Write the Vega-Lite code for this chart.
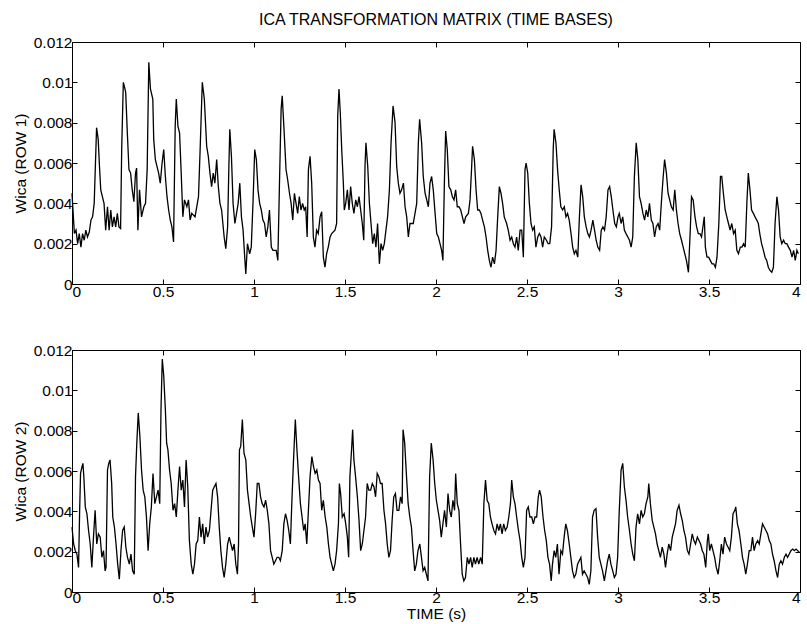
{
"$schema":"https://vega.github.io/schema/vega-lite/v6.json",
"padding":{"left":12,"top":11,"right":0,"bottom":0},
"background":"#ffffff",
"config":{"font":"Liberation Sans","view":{"stroke":"#000","strokeWidth":1},
"axis":{"grid":false,"domain":false,"tickColor":"#000","tickSize":-5,"labelColor":"#000","labelFontSize":15.5,"titleFontSize":15.5,"titleFontWeight":"normal","titleColor":"#000","labelFont":"Liberation Sans","titleFont":"Liberation Sans"}},
"spacing":42,
"datasets":{
"r1":[{"t":0,"w":0.0045},{"t":0.013,"w":0.0025},{"t":0.022,"w":0.00267},{"t":0.031,"w":0.002},{"t":0.04,"w":0.0025},{"t":0.049,"w":0.00183},{"t":0.058,"w":0.0025},{"t":0.067,"w":0.00217},{"t":0.076,"w":0.00267},{"t":0.085,"w":0.00233},{"t":0.095,"w":0.00258},{"t":0.104,"w":0.00317},{"t":0.113,"w":0.00333},{"t":0.122,"w":0.004},{"t":0.135,"w":0.00775},{"t":0.144,"w":0.00717},{"t":0.151,"w":0.00583},{"t":0.158,"w":0.00467},{"t":0.167,"w":0.00433},{"t":0.176,"w":0.004},{"t":0.185,"w":0.00267},{"t":0.195,"w":0.00383},{"t":0.204,"w":0.00267},{"t":0.213,"w":0.00367},{"t":0.222,"w":0.00283},{"t":0.231,"w":0.00333},{"t":0.24,"w":0.00283},{"t":0.249,"w":0.0035},{"t":0.258,"w":0.00283},{"t":0.267,"w":0.00275},{"t":0.273,"w":0.00667},{"t":0.282,"w":0.01},{"t":0.289,"w":0.00975},{"t":0.295,"w":0.0095},{"t":0.304,"w":0.0075},{"t":0.313,"w":0.00567},{"t":0.322,"w":0.0055},{"t":0.331,"w":0.00467},{"t":0.34,"w":0.00408},{"t":0.349,"w":0.0055},{"t":0.355,"w":0.00575},{"t":0.362,"w":0.00267},{"t":0.371,"w":0.00467},{"t":0.382,"w":0.00333},{"t":0.395,"w":0.00383},{"t":0.404,"w":0.004},{"t":0.413,"w":0.00567},{"t":0.422,"w":0.011},{"t":0.431,"w":0.00967},{"t":0.444,"w":0.00917},{"t":0.449,"w":0.00717},{"t":0.458,"w":0.00617},{"t":0.467,"w":0.00583},{"t":0.476,"w":0.0055},{"t":0.485,"w":0.005},{"t":0.495,"w":0.006},{"t":0.504,"w":0.00667},{"t":0.513,"w":0.00533},{"t":0.522,"w":0.00433},{"t":0.531,"w":0.00367},{"t":0.54,"w":0.00317},{"t":0.549,"w":0.00283},{"t":0.558,"w":0.00208},{"t":0.567,"w":0.00783},{"t":0.573,"w":0.00917},{"t":0.582,"w":0.00783},{"t":0.591,"w":0.0075},{"t":0.6,"w":0.0055},{"t":0.609,"w":0.00333},{"t":0.618,"w":0.00417},{"t":0.631,"w":0.00383},{"t":0.64,"w":0.00417},{"t":0.649,"w":0.00317},{"t":0.658,"w":0.0035},{"t":0.676,"w":0.00333},{"t":0.695,"w":0.00433},{"t":0.704,"w":0.00667},{"t":0.716,"w":0.01},{"t":0.727,"w":0.00917},{"t":0.74,"w":0.00683},{"t":0.749,"w":0.00633},{"t":0.758,"w":0.0055},{"t":0.767,"w":0.00483},{"t":0.776,"w":0.0055},{"t":0.785,"w":0.005},{"t":0.795,"w":0.00617},{"t":0.804,"w":0.00483},{"t":0.813,"w":0.004},{"t":0.822,"w":0.00367},{"t":0.836,"w":0.00233},{"t":0.845,"w":0.00175},{"t":0.855,"w":0.00283},{"t":0.862,"w":0.00583},{"t":0.867,"w":0.00767},{"t":0.876,"w":0.00633},{"t":0.885,"w":0.004},{"t":0.895,"w":0.003},{"t":0.904,"w":0.0035},{"t":0.913,"w":0.004},{"t":0.922,"w":0.005},{"t":0.931,"w":0.00333},{"t":0.94,"w":0.00267},{"t":0.949,"w":0.00133},{"t":0.955,"w":0.0005},{"t":0.964,"w":0.002},{"t":0.976,"w":0.0015},{"t":0.985,"w":0.00183},{"t":0.995,"w":0.00417},{"t":1.004,"w":0.00667},{"t":1.013,"w":0.00617},{"t":1.022,"w":0.00467},{"t":1.031,"w":0.004},{"t":1.04,"w":0.00367},{"t":1.049,"w":0.00317},{"t":1.058,"w":0.003},{"t":1.067,"w":0.00233},{"t":1.076,"w":0.00283},{"t":1.085,"w":0.00367},{"t":1.095,"w":0.00183},{"t":1.104,"w":0.00167},{"t":1.113,"w":0.00167},{"t":1.122,"w":0.00167},{"t":1.131,"w":0.00117},{"t":1.14,"w":0.005},{"t":1.149,"w":0.00867},{"t":1.155,"w":0.00933},{"t":1.164,"w":0.00783},{"t":1.176,"w":0.00567},{"t":1.185,"w":0.00517},{"t":1.195,"w":0.0045},{"t":1.204,"w":0.004},{"t":1.213,"w":0.00317},{"t":1.222,"w":0.0045},{"t":1.231,"w":0.004},{"t":1.24,"w":0.0035},{"t":1.249,"w":0.00433},{"t":1.258,"w":0.00367},{"t":1.267,"w":0.004},{"t":1.276,"w":0.00367},{"t":1.284,"w":0.00383},{"t":1.292,"w":0.00233},{"t":1.299,"w":0.00567},{"t":1.308,"w":0.00633},{"t":1.317,"w":0.005},{"t":1.326,"w":0.00233},{"t":1.335,"w":0.00183},{"t":1.344,"w":0.00267},{"t":1.353,"w":0.0025},{"t":1.363,"w":0.00333},{"t":1.372,"w":0.00358},{"t":1.381,"w":0.00133},{"t":1.39,"w":0.00083},{"t":1.399,"w":0.0015},{"t":1.408,"w":0.00183},{"t":1.418,"w":0.00233},{"t":1.427,"w":0.0025},{"t":1.445,"w":0.00267},{"t":1.454,"w":0.003},{"t":1.46,"w":0.00833},{"t":1.467,"w":0.00967},{"t":1.474,"w":0.0085},{"t":1.482,"w":0.00667},{"t":1.491,"w":0.005},{"t":1.496,"w":0.00367},{"t":1.504,"w":0.004},{"t":1.513,"w":0.00467},{"t":1.522,"w":0.00367},{"t":1.531,"w":0.00483},{"t":1.54,"w":0.004},{"t":1.549,"w":0.0035},{"t":1.559,"w":0.00417},{"t":1.568,"w":0.00383},{"t":1.577,"w":0.00433},{"t":1.586,"w":0.00367},{"t":1.595,"w":0.003},{"t":1.603,"w":0.00217},{"t":1.61,"w":0.00583},{"t":1.615,"w":0.007},{"t":1.625,"w":0.00583},{"t":1.634,"w":0.004},{"t":1.643,"w":0.003},{"t":1.652,"w":0.002},{"t":1.661,"w":0.0025},{"t":1.67,"w":0.00183},{"t":1.679,"w":0.003},{"t":1.689,"w":0.001},{"t":1.698,"w":0.002},{"t":1.707,"w":0.00167},{"t":1.716,"w":0.002},{"t":1.725,"w":0.00267},{"t":1.734,"w":0.00333},{"t":1.744,"w":0.00467},{"t":1.753,"w":0.007},{"t":1.764,"w":0.00883},{"t":1.775,"w":0.008},{"t":1.784,"w":0.00583},{"t":1.793,"w":0.005},{"t":1.802,"w":0.0045},{"t":1.811,"w":0.00467},{"t":1.821,"w":0.005},{"t":1.83,"w":0.00383},{"t":1.839,"w":0.00333},{"t":1.848,"w":0.00233},{"t":1.857,"w":0.003},{"t":1.875,"w":0.003},{"t":1.894,"w":0.004},{"t":1.903,"w":0.007},{"t":1.91,"w":0.00817},{"t":1.921,"w":0.007},{"t":1.93,"w":0.00533},{"t":1.94,"w":0.0045},{"t":1.949,"w":0.00417},{"t":1.958,"w":0.00383},{"t":1.967,"w":0.005},{"t":1.976,"w":0.00533},{"t":1.985,"w":0.00467},{"t":1.995,"w":0.0035},{"t":2.004,"w":0.0025},{"t":2.013,"w":0.00233},{"t":2.022,"w":0.002},{"t":2.031,"w":0.00167},{"t":2.038,"w":0.00117},{"t":2.046,"w":0.005},{"t":2.053,"w":0.00758},{"t":2.062,"w":0.00667},{"t":2.071,"w":0.00483},{"t":2.081,"w":0.00467},{"t":2.09,"w":0.00433},{"t":2.099,"w":0.00417},{"t":2.108,"w":0.00467},{"t":2.117,"w":0.00383},{"t":2.126,"w":0.00383},{"t":2.136,"w":0.00367},{"t":2.145,"w":0.00333},{"t":2.154,"w":0.003},{"t":2.163,"w":0.00333},{"t":2.178,"w":0.0035},{"t":2.187,"w":0.00417},{"t":2.196,"w":0.00583},{"t":2.201,"w":0.00683},{"t":2.211,"w":0.00617},{"t":2.22,"w":0.00467},{"t":2.229,"w":0.00367},{"t":2.238,"w":0.00367},{"t":2.247,"w":0.0035},{"t":2.256,"w":0.00317},{"t":2.266,"w":0.00283},{"t":2.275,"w":0.00233},{"t":2.284,"w":0.00167},{"t":2.293,"w":0.00117},{"t":2.302,"w":0.00083},{"t":2.311,"w":0.00133},{"t":2.321,"w":0.001},{"t":2.33,"w":0.00167},{"t":2.339,"w":0.00333},{"t":2.348,"w":0.00483},{"t":2.357,"w":0.0045},{"t":2.366,"w":0.004},{"t":2.375,"w":0.00333},{"t":2.388,"w":0.003},{"t":2.397,"w":0.00267},{"t":2.407,"w":0.00217},{"t":2.416,"w":0.00233},{"t":2.425,"w":0.002},{"t":2.434,"w":0.00183},{"t":2.443,"w":0.00233},{"t":2.452,"w":0.00167},{"t":2.462,"w":0.00267},{"t":2.471,"w":0.00267},{"t":2.48,"w":0.00133},{"t":2.489,"w":0.00567},{"t":2.495,"w":0.006},{"t":2.504,"w":0.0055},{"t":2.513,"w":0.004},{"t":2.522,"w":0.003},{"t":2.531,"w":0.00267},{"t":2.54,"w":0.00283},{"t":2.549,"w":0.00183},{"t":2.559,"w":0.00233},{"t":2.568,"w":0.0025},{"t":2.577,"w":0.00233},{"t":2.586,"w":0.00183},{"t":2.595,"w":0.00233},{"t":2.607,"w":0.00217},{"t":2.616,"w":0.002},{"t":2.625,"w":0.002},{"t":2.635,"w":0.00283},{"t":2.644,"w":0.00667},{"t":2.649,"w":0.00767},{"t":2.659,"w":0.007},{"t":2.668,"w":0.00567},{"t":2.677,"w":0.00467},{"t":2.686,"w":0.00383},{"t":2.696,"w":0.00367},{"t":2.705,"w":0.00383},{"t":2.714,"w":0.00333},{"t":2.723,"w":0.0035},{"t":2.732,"w":0.00317},{"t":2.742,"w":0.0025},{"t":2.751,"w":0.00183},{"t":2.76,"w":0.0015},{"t":2.769,"w":0.00167},{"t":2.779,"w":0.00133},{"t":2.788,"w":0.00333},{"t":2.797,"w":0.00492},{"t":2.806,"w":0.00433},{"t":2.815,"w":0.00333},{"t":2.825,"w":0.00283},{"t":2.834,"w":0.0025},{"t":2.843,"w":0.00233},{"t":2.852,"w":0.00267},{"t":2.862,"w":0.00317},{"t":2.871,"w":0.00267},{"t":2.88,"w":0.00217},{"t":2.889,"w":0.00183},{"t":2.899,"w":0.00167},{"t":2.908,"w":0.00267},{"t":2.917,"w":0.00283},{"t":2.926,"w":0.00267},{"t":2.935,"w":0.00333},{"t":2.945,"w":0.00467},{"t":2.954,"w":0.00483},{"t":2.963,"w":0.00433},{"t":2.972,"w":0.00367},{"t":2.982,"w":0.003},{"t":2.991,"w":0.00283},{"t":3.0,"w":0.00333},{"t":3.007,"w":0.0035},{"t":3.017,"w":0.003},{"t":3.026,"w":0.00333},{"t":3.035,"w":0.00267},{"t":3.044,"w":0.0025},{"t":3.054,"w":0.00233},{"t":3.063,"w":0.00217},{"t":3.072,"w":0.00183},{"t":3.081,"w":0.00233},{"t":3.09,"w":0.00533},{"t":3.1,"w":0.007},{"t":3.109,"w":0.00617},{"t":3.118,"w":0.00433},{"t":3.127,"w":0.004},{"t":3.137,"w":0.0035},{"t":3.146,"w":0.00317},{"t":3.155,"w":0.00367},{"t":3.164,"w":0.00333},{"t":3.173,"w":0.004},{"t":3.183,"w":0.00317},{"t":3.192,"w":0.003},{"t":3.201,"w":0.00233},{"t":3.21,"w":0.00283},{"t":3.22,"w":0.003},{"t":3.229,"w":0.00267},{"t":3.238,"w":0.004},{"t":3.247,"w":0.00517},{"t":3.256,"w":0.00617},{"t":3.266,"w":0.0055},{"t":3.275,"w":0.0045},{"t":3.284,"w":0.00417},{"t":3.293,"w":0.00383},{"t":3.303,"w":0.00367},{"t":3.312,"w":0.00467},{"t":3.321,"w":0.00367},{"t":3.33,"w":0.003},{"t":3.339,"w":0.0025},{"t":3.349,"w":0.00217},{"t":3.358,"w":0.00183},{"t":3.367,"w":0.0015},{"t":3.376,"w":0.00117},{"t":3.387,"w":0.00058},{"t":3.397,"w":0.00267},{"t":3.404,"w":0.00433},{"t":3.413,"w":0.00417},{"t":3.423,"w":0.00333},{"t":3.432,"w":0.00283},{"t":3.441,"w":0.0025},{"t":3.45,"w":0.0025},{"t":3.459,"w":0.00233},{"t":3.469,"w":0.003},{"t":3.474,"w":0.00333},{"t":3.48,"w":0.00183},{"t":3.489,"w":0.00133},{"t":3.498,"w":0.00133},{"t":3.507,"w":0.00117},{"t":3.517,"w":0.001},{"t":3.526,"w":0.001},{"t":3.535,"w":0.00083},{"t":3.544,"w":0.00133},{"t":3.554,"w":0.003},{"t":3.563,"w":0.00533},{"t":3.57,"w":0.00533},{"t":3.579,"w":0.0045},{"t":3.589,"w":0.00367},{"t":3.598,"w":0.00333},{"t":3.607,"w":0.003},{"t":3.616,"w":0.00267},{"t":3.625,"w":0.003},{"t":3.635,"w":0.0025},{"t":3.644,"w":0.00267},{"t":3.653,"w":0.00167},{"t":3.662,"w":0.0015},{"t":3.672,"w":0.00183},{"t":3.681,"w":0.00183},{"t":3.69,"w":0.002},{"t":3.699,"w":0.00183},{"t":3.708,"w":0.004},{"t":3.716,"w":0.0055},{"t":3.725,"w":0.00467},{"t":3.734,"w":0.00367},{"t":3.744,"w":0.0035},{"t":3.753,"w":0.00333},{"t":3.762,"w":0.00317},{"t":3.771,"w":0.003},{"t":3.779,"w":0.0025},{"t":3.789,"w":0.002},{"t":3.799,"w":0.00167},{"t":3.808,"w":0.00133},{"t":3.817,"w":0.00117},{"t":3.826,"w":0.00083},{"t":3.835,"w":0.00067},{"t":3.845,"w":0.00058},{"t":3.854,"w":0.00083},{"t":3.863,"w":0.003},{"t":3.873,"w":0.00433},{"t":3.882,"w":0.00367},{"t":3.891,"w":0.00233},{"t":3.9,"w":0.002},{"t":3.91,"w":0.00217},{"t":3.919,"w":0.002},{"t":3.928,"w":0.002},{"t":3.937,"w":0.00183},{"t":3.947,"w":0.00167},{"t":3.956,"w":0.00133},{"t":3.965,"w":0.00167},{"t":3.974,"w":0.00117},{"t":3.983,"w":0.00167},{"t":3.991,"w":0.0015}],
"r2":[{"t":0,"w":0.00322},{"t":0.009,"w":0.00238},{"t":0.018,"w":0.00205},{"t":0.027,"w":0.00188},{"t":0.036,"w":0.00122},{"t":0.042,"w":0.00405},{"t":0.047,"w":0.00588},{"t":0.055,"w":0.00622},{"t":0.06,"w":0.00638},{"t":0.065,"w":0.00572},{"t":0.073,"w":0.00422},{"t":0.082,"w":0.00388},{"t":0.091,"w":0.00305},{"t":0.1,"w":0.00238},{"t":0.109,"w":0.00122},{"t":0.118,"w":0.00272},{"t":0.127,"w":0.00405},{"t":0.136,"w":0.00238},{"t":0.145,"w":0.00288},{"t":0.155,"w":0.00272},{"t":0.164,"w":0.00172},{"t":0.173,"w":0.00205},{"t":0.182,"w":0.00105},{"t":0.187,"w":0.00122},{"t":0.195,"w":0.00605},{"t":0.202,"w":0.00638},{"t":0.209,"w":0.00655},{"t":0.218,"w":0.00538},{"t":0.224,"w":0.00372},{"t":0.233,"w":0.00322},{"t":0.242,"w":0.00238},{"t":0.251,"w":0.00138},{"t":0.26,"w":0.00063},{"t":0.269,"w":0.00205},{"t":0.278,"w":0.00305},{"t":0.287,"w":0.00322},{"t":0.296,"w":0.00222},{"t":0.305,"w":0.00172},{"t":0.315,"w":0.00138},{"t":0.324,"w":0.00188},{"t":0.333,"w":0.00105},{"t":0.342,"w":0.00088},{"t":0.349,"w":0.00572},{"t":0.356,"w":0.00738},{"t":0.364,"w":0.00888},{"t":0.373,"w":0.00772},{"t":0.382,"w":0.00605},{"t":0.391,"w":0.00505},{"t":0.4,"w":0.00472},{"t":0.409,"w":0.00372},{"t":0.418,"w":0.00205},{"t":0.427,"w":0.00338},{"t":0.436,"w":0.00422},{"t":0.445,"w":0.00588},{"t":0.455,"w":0.00438},{"t":0.464,"w":0.00472},{"t":0.473,"w":0.00505},{"t":0.482,"w":0.00438},{"t":0.489,"w":0.00905},{"t":0.496,"w":0.01155},{"t":0.504,"w":0.01072},{"t":0.513,"w":0.00905},{"t":0.52,"w":0.00738},{"t":0.527,"w":0.00705},{"t":0.536,"w":0.00605},{"t":0.545,"w":0.00538},{"t":0.555,"w":0.00405},{"t":0.564,"w":0.00438},{"t":0.573,"w":0.00372},{"t":0.582,"w":0.00505},{"t":0.591,"w":0.00622},{"t":0.6,"w":0.00505},{"t":0.609,"w":0.00555},{"t":0.618,"w":0.00422},{"t":0.627,"w":0.00655},{"t":0.636,"w":0.00522},{"t":0.645,"w":0.00255},{"t":0.655,"w":0.00138},{"t":0.664,"w":0.00088},{"t":0.673,"w":0.00138},{"t":0.682,"w":0.00238},{"t":0.691,"w":0.00255},{"t":0.7,"w":0.00372},{"t":0.709,"w":0.00272},{"t":0.718,"w":0.00338},{"t":0.727,"w":0.00238},{"t":0.736,"w":0.00322},{"t":0.745,"w":0.00272},{"t":0.755,"w":0.00305},{"t":0.764,"w":0.00405},{"t":0.773,"w":0.00505},{"t":0.782,"w":0.00522},{"t":0.791,"w":0.00538},{"t":0.8,"w":0.00472},{"t":0.809,"w":0.00322},{"t":0.818,"w":0.00205},{"t":0.827,"w":0.00122},{"t":0.836,"w":0.00072},{"t":0.845,"w":0.00138},{"t":0.855,"w":0.00238},{"t":0.864,"w":0.00272},{"t":0.873,"w":0.00238},{"t":0.882,"w":0.00205},{"t":0.891,"w":0.00238},{"t":0.9,"w":0.00138},{"t":0.909,"w":0.00088},{"t":0.915,"w":0.00238},{"t":0.92,"w":0.00705},{"t":0.927,"w":0.00722},{"t":0.936,"w":0.00855},{"t":0.945,"w":0.00688},{"t":0.955,"w":0.00655},{"t":0.964,"w":0.00505},{"t":0.973,"w":0.00438},{"t":0.982,"w":0.00372},{"t":0.991,"w":0.00322},{"t":1.0,"w":0.00272},{"t":1.009,"w":0.00388},{"t":1.018,"w":0.00538},{"t":1.027,"w":0.00538},{"t":1.036,"w":0.00472},{"t":1.045,"w":0.00438},{"t":1.055,"w":0.00422},{"t":1.064,"w":0.00455},{"t":1.073,"w":0.00405},{"t":1.082,"w":0.00338},{"t":1.091,"w":0.00205},{"t":1.1,"w":0.00172},{"t":1.109,"w":0.00138},{"t":1.118,"w":0.00155},{"t":1.127,"w":0.00172},{"t":1.136,"w":0.00172},{"t":1.145,"w":0.00155},{"t":1.155,"w":0.00205},{"t":1.164,"w":0.00338},{"t":1.173,"w":0.00388},{"t":1.182,"w":0.00355},{"t":1.191,"w":0.00305},{"t":1.2,"w":0.00238},{"t":1.209,"w":0.00472},{"t":1.218,"w":0.00672},{"t":1.227,"w":0.00855},{"t":1.236,"w":0.00705},{"t":1.245,"w":0.00572},{"t":1.255,"w":0.00438},{"t":1.264,"w":0.00372},{"t":1.273,"w":0.00305},{"t":1.281,"w":0.00338},{"t":1.29,"w":0.00238},{"t":1.299,"w":0.00405},{"t":1.308,"w":0.00572},{"t":1.318,"w":0.00672},{"t":1.327,"w":0.00622},{"t":1.336,"w":0.00588},{"t":1.345,"w":0.00605},{"t":1.354,"w":0.00555},{"t":1.363,"w":0.00538},{"t":1.372,"w":0.00405},{"t":1.381,"w":0.00455},{"t":1.391,"w":0.00372},{"t":1.4,"w":0.00322},{"t":1.409,"w":0.00238},{"t":1.418,"w":0.00172},{"t":1.427,"w":0.00138},{"t":1.436,"w":0.00105},{"t":1.445,"w":0.00138},{"t":1.454,"w":0.00205},{"t":1.464,"w":0.00338},{"t":1.469,"w":0.00538},{"t":1.476,"w":0.00488},{"t":1.485,"w":0.00372},{"t":1.495,"w":0.00388},{"t":1.504,"w":0.00338},{"t":1.513,"w":0.00272},{"t":1.52,"w":0.00172},{"t":1.527,"w":0.00572},{"t":1.536,"w":0.00705},{"t":1.542,"w":0.00805},{"t":1.549,"w":0.00655},{"t":1.558,"w":0.00572},{"t":1.568,"w":0.00472},{"t":1.577,"w":0.00355},{"t":1.586,"w":0.00205},{"t":1.595,"w":0.00238},{"t":1.604,"w":0.00305},{"t":1.613,"w":0.00372},{"t":1.622,"w":0.00538},{"t":1.631,"w":0.00505},{"t":1.641,"w":0.00505},{"t":1.65,"w":0.00538},{"t":1.659,"w":0.00522},{"t":1.668,"w":0.00472},{"t":1.677,"w":0.00588},{"t":1.686,"w":0.00572},{"t":1.695,"w":0.00538},{"t":1.704,"w":0.00538},{"t":1.714,"w":0.00405},{"t":1.723,"w":0.00338},{"t":1.732,"w":0.00238},{"t":1.741,"w":0.00172},{"t":1.75,"w":0.00205},{"t":1.759,"w":0.00355},{"t":1.768,"w":0.00472},{"t":1.777,"w":0.00488},{"t":1.786,"w":0.00405},{"t":1.796,"w":0.00405},{"t":1.805,"w":0.00472},{"t":1.814,"w":0.00438},{"t":1.819,"w":0.00805},{"t":1.828,"w":0.00738},{"t":1.838,"w":0.00572},{"t":1.847,"w":0.00438},{"t":1.856,"w":0.00372},{"t":1.865,"w":0.00322},{"t":1.874,"w":0.00205},{"t":1.883,"w":0.00105},{"t":1.892,"w":0.00138},{"t":1.901,"w":0.00205},{"t":1.911,"w":0.00238},{"t":1.92,"w":0.00172},{"t":1.929,"w":0.00105},{"t":1.938,"w":0.00122},{"t":1.947,"w":0.00088},{"t":1.956,"w":0.00055},{"t":1.965,"w":0.00572},{"t":1.974,"w":0.00738},{"t":1.984,"w":0.00655},{"t":1.993,"w":0.00538},{"t":2.002,"w":0.00455},{"t":2.011,"w":0.00405},{"t":2.02,"w":0.00355},{"t":2.029,"w":0.00272},{"t":2.038,"w":0.00338},{"t":2.047,"w":0.00405},{"t":2.057,"w":0.00322},{"t":2.066,"w":0.00488},{"t":2.075,"w":0.00405},{"t":2.084,"w":0.00372},{"t":2.093,"w":0.00455},{"t":2.102,"w":0.00405},{"t":2.108,"w":0.00588},{"t":2.117,"w":0.00438},{"t":2.126,"w":0.00405},{"t":2.135,"w":0.00238},{"t":2.144,"w":0.00088},{"t":2.153,"w":0.00055},{"t":2.162,"w":0.00072},{"t":2.172,"w":0.00172},{"t":2.181,"w":0.00138},{"t":2.19,"w":0.00172},{"t":2.199,"w":0.00122},{"t":2.208,"w":0.00172},{"t":2.217,"w":0.00138},{"t":2.226,"w":0.00172},{"t":2.235,"w":0.00138},{"t":2.245,"w":0.00172},{"t":2.254,"w":0.00138},{"t":2.263,"w":0.00438},{"t":2.272,"w":0.00555},{"t":2.281,"w":0.00455},{"t":2.29,"w":0.00438},{"t":2.299,"w":0.00372},{"t":2.308,"w":0.00338},{"t":2.318,"w":0.00305},{"t":2.327,"w":0.00288},{"t":2.336,"w":0.00338},{"t":2.345,"w":0.00305},{"t":2.354,"w":0.00338},{"t":2.363,"w":0.00288},{"t":2.372,"w":0.00338},{"t":2.381,"w":0.00305},{"t":2.391,"w":0.00322},{"t":2.4,"w":0.00372},{"t":2.409,"w":0.00438},{"t":2.416,"w":0.00555},{"t":2.425,"w":0.00472},{"t":2.434,"w":0.00438},{"t":2.443,"w":0.00372},{"t":2.453,"w":0.00305},{"t":2.462,"w":0.00255},{"t":2.471,"w":0.00172},{"t":2.48,"w":0.00122},{"t":2.489,"w":0.00172},{"t":2.498,"w":0.00405},{"t":2.507,"w":0.00422},{"t":2.516,"w":0.00372},{"t":2.526,"w":0.00372},{"t":2.535,"w":0.00338},{"t":2.544,"w":0.00372},{"t":2.553,"w":0.00372},{"t":2.562,"w":0.00472},{"t":2.569,"w":0.00505},{"t":2.578,"w":0.00472},{"t":2.588,"w":0.00372},{"t":2.597,"w":0.00305},{"t":2.606,"w":0.00255},{"t":2.615,"w":0.00172},{"t":2.624,"w":0.00138},{"t":2.633,"w":0.00055},{"t":2.64,"w":0.00138},{"t":2.649,"w":0.00205},{"t":2.658,"w":0.00172},{"t":2.667,"w":0.00238},{"t":2.676,"w":0.00088},{"t":2.686,"w":0.00205},{"t":2.695,"w":0.00188},{"t":2.704,"w":0.00272},{"t":2.713,"w":0.00338},{"t":2.722,"w":0.00305},{"t":2.732,"w":0.00238},{"t":2.741,"w":0.00172},{"t":2.75,"w":0.00105},{"t":2.759,"w":0.00072},{"t":2.768,"w":0.00088},{"t":2.778,"w":0.00138},{"t":2.787,"w":0.00155},{"t":2.796,"w":0.00172},{"t":2.805,"w":0.00088},{"t":2.814,"w":0.00105},{"t":2.824,"w":0.00088},{"t":2.833,"w":0.00072},{"t":2.842,"w":0.00038},{"t":2.851,"w":0.00105},{"t":2.86,"w":0.00372},{"t":2.869,"w":0.00405},{"t":2.879,"w":0.00413},{"t":2.888,"w":0.00272},{"t":2.897,"w":0.00172},{"t":2.906,"w":0.00138},{"t":2.915,"w":0.00105},{"t":2.925,"w":0.00055},{"t":2.934,"w":0.00105},{"t":2.943,"w":0.00155},{"t":2.952,"w":0.00188},{"t":2.961,"w":0.00138},{"t":2.971,"w":0.00105},{"t":2.98,"w":0.00072},{"t":2.989,"w":0.00088},{"t":2.998,"w":0.00172},{"t":3.007,"w":0.00405},{"t":3.017,"w":0.00605},{"t":3.026,"w":0.00638},{"t":3.035,"w":0.00522},{"t":3.044,"w":0.00455},{"t":3.053,"w":0.00372},{"t":3.063,"w":0.00305},{"t":3.072,"w":0.00238},{"t":3.081,"w":0.00188},{"t":3.09,"w":0.00155},{"t":3.099,"w":0.00322},{"t":3.108,"w":0.00388},{"t":3.118,"w":0.00338},{"t":3.127,"w":0.00405},{"t":3.136,"w":0.00372},{"t":3.145,"w":0.00388},{"t":3.154,"w":0.00438},{"t":3.164,"w":0.00472},{"t":3.169,"w":0.00538},{"t":3.178,"w":0.00438},{"t":3.188,"w":0.00355},{"t":3.197,"w":0.00322},{"t":3.206,"w":0.00288},{"t":3.215,"w":0.00238},{"t":3.224,"w":0.00205},{"t":3.233,"w":0.00172},{"t":3.243,"w":0.00222},{"t":3.252,"w":0.00188},{"t":3.261,"w":0.00122},{"t":3.27,"w":0.00188},{"t":3.279,"w":0.00238},{"t":3.289,"w":0.00205},{"t":3.298,"w":0.00272},{"t":3.307,"w":0.00305},{"t":3.316,"w":0.00338},{"t":3.325,"w":0.00405},{"t":3.335,"w":0.0043},{"t":3.344,"w":0.00388},{"t":3.353,"w":0.00355},{"t":3.362,"w":0.00305},{"t":3.371,"w":0.00272},{"t":3.381,"w":0.00205},{"t":3.39,"w":0.00188},{"t":3.399,"w":0.00238},{"t":3.408,"w":0.00288},{"t":3.417,"w":0.00255},{"t":3.426,"w":0.00238},{"t":3.436,"w":0.00272},{"t":3.445,"w":0.00255},{"t":3.454,"w":0.00238},{"t":3.463,"w":0.00205},{"t":3.472,"w":0.00188},{"t":3.482,"w":0.00122},{"t":3.491,"w":0.00255},{"t":3.496,"w":0.00288},{"t":3.504,"w":0.00205},{"t":3.513,"w":0.00238},{"t":3.522,"w":0.00205},{"t":3.531,"w":0.00172},{"t":3.54,"w":0.00122},{"t":3.55,"w":0.00088},{"t":3.559,"w":0.00155},{"t":3.568,"w":0.00238},{"t":3.577,"w":0.00188},{"t":3.586,"w":0.00272},{"t":3.596,"w":0.00238},{"t":3.605,"w":0.00222},{"t":3.614,"w":0.00205},{"t":3.623,"w":0.00272},{"t":3.632,"w":0.00388},{"t":3.642,"w":0.00405},{"t":3.647,"w":0.00422},{"t":3.656,"w":0.00338},{"t":3.665,"w":0.00305},{"t":3.675,"w":0.00238},{"t":3.684,"w":0.00172},{"t":3.693,"w":0.00138},{"t":3.702,"w":0.00088},{"t":3.711,"w":0.00138},{"t":3.721,"w":0.00205},{"t":3.73,"w":0.00205},{"t":3.739,"w":0.00272},{"t":3.748,"w":0.00205},{"t":3.757,"w":0.00238},{"t":3.767,"w":0.00255},{"t":3.776,"w":0.00238},{"t":3.785,"w":0.00288},{"t":3.794,"w":0.00338},{"t":3.803,"w":0.00322},{"t":3.813,"w":0.00305},{"t":3.822,"w":0.00288},{"t":3.831,"w":0.00255},{"t":3.84,"w":0.00238},{"t":3.849,"w":0.00188},{"t":3.858,"w":0.00155},{"t":3.868,"w":0.00105},{"t":3.877,"w":0.00072},{"t":3.886,"w":0.00138},{"t":3.895,"w":0.00155},{"t":3.904,"w":0.00138},{"t":3.914,"w":0.00172},{"t":3.923,"w":0.00188},{"t":3.932,"w":0.00172},{"t":3.941,"w":0.00188},{"t":3.95,"w":0.00205},{"t":3.96,"w":0.00213},{"t":3.969,"w":0.00205},{"t":3.978,"w":0.00213},{"t":3.987,"w":0.00205},{"t":3.996,"w":0.00197}]
},
"vconcat":[
{"width":728,"height":242,"data":{"name":"r1"},
"title":{"text":"ICA TRANSFORMATION MATRIX (TIME BASES)","fontSize":16,"fontWeight":"normal","color":"#000","anchor":"middle","frame":"group","offset":7},
"layer":[
{"mark":{"type":"line","color":"#000","strokeWidth":1.3},
"encoding":{"x":{"field":"t","type":"quantitative","scale":{"domain":[0,4],"nice":false},"axis":{"title":null,"values":[0,0.5,1,1.5,2,2.5,3,3.5,4],"format":"~g","labelPadding":5}},
"y":{"field":"w","type":"quantitative","scale":{"domain":[0,0.012],"nice":false},"axis":{"title":"Wica (ROW 1)","values":[0,0.002,0.004,0.006,0.008,0.01,0.012],"format":"~g","labelPadding":5,"titlePadding":5}}}},
{"mark":{"type":"line","strokeOpacity":0},
"encoding":{"x":{"field":"t","type":"quantitative","scale":{"domain":[0,4],"nice":false},"axis":{"orient":"top","title":null,"labels":false,"values":[0,0.5,1,1.5,2,2.5,3,3.5,4]}},
"y":{"field":"w","type":"quantitative","scale":{"domain":[0,0.012],"nice":false},"axis":{"orient":"right","title":null,"labels":false,"values":[0,0.002,0.004,0.006,0.008,0.01,0.012]}}}}
],
"resolve":{"axis":{"x":"independent","y":"independent"}}},
{"width":728,"height":242,"data":{"name":"r2"},
"layer":[
{"mark":{"type":"line","color":"#000","strokeWidth":1.3},
"encoding":{"x":{"field":"t","type":"quantitative","scale":{"domain":[0,4],"nice":false},"axis":{"title":"TIME (s)","values":[0,0.5,1,1.5,2,2.5,3,3.5,4],"format":"~g","labelPadding":3,"titlePadding":1}},
"y":{"field":"w","type":"quantitative","scale":{"domain":[0,0.012],"nice":false},"axis":{"title":"Wica (ROW 2)","values":[0,0.002,0.004,0.006,0.008,0.01,0.012],"format":"~g","labelPadding":5,"titlePadding":5}}}},
{"mark":{"type":"line","strokeOpacity":0},
"encoding":{"x":{"field":"t","type":"quantitative","scale":{"domain":[0,4],"nice":false},"axis":{"orient":"top","title":null,"labels":false,"values":[0,0.5,1,1.5,2,2.5,3,3.5,4]}},
"y":{"field":"w","type":"quantitative","scale":{"domain":[0,0.012],"nice":false},"axis":{"orient":"right","title":null,"labels":false,"values":[0,0.002,0.004,0.006,0.008,0.01,0.012]}}}}
],
"resolve":{"axis":{"x":"independent","y":"independent"}}}
]
}
